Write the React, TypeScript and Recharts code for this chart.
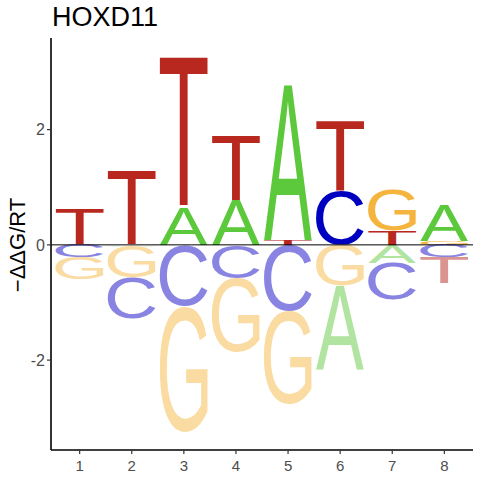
import { BarChart, Bar, XAxis, YAxis, ReferenceLine } from "recharts";

// energy logo values per position (positive = above zero, negative = below)
const positions = [1, 2, 3, 4, 5, 6, 7, 8];
const A = [0, -0.03, 0.65, 0.77, 2.68, -1.45, -0.31, 0.62];
const C = [-0.22, -0.71, -1.06, -0.58, -1.14, 0.94, -0.63, -0.22];
const G = [-0.38, -0.54, -2.18, -1.28, -1.63, -0.7, 0.71, 0.07];
const T = [0.61, 1.29, 2.6, 1.13, 0.08, 1.22, 0.24, -0.45];
const xTicks = [1, 2, 3, 4, 5, 6, 7, 8];
const yTicks = [-2, 0, 2];
const title = "HOXD11";
const yLabel = "−ΔΔG/RT";

const FONT = "'Liberation Sans', Arial, Helvetica, sans-serif";
const FULL: Record<string, string> = { A: "#5BC93B", C: "#0000C0", G: "#F5B43D", T: "#B8281E" };
const FADED: Record<string, string> = { A: "#B1E4A0", C: "#8984E2", G: "#FADBA1", T: "#DC9490" };

type Ink = { left: number; right: number; asc: number; desc: number };
// rough Arial ink boxes at 100px, used if canvas measuring fails
const FALLBACK: Record<string, Ink> = {
  A: { left: 0.15, right: 66.8, asc: 71.6, desc: 0 },
  C: { left: -4.9, right: 67.6, asc: 72.8, desc: 1.2 },
  G: { left: -5.3, right: 71.7, asc: 72.8, desc: 1.2 },
  T: { left: -2.4, right: 58.6, asc: 71.6, desc: 0 },
};

function measureInk(): Record<string, Ink> {
  const out: Record<string, Ink> = { ...FALLBACK };
  try {
    const ctx = document.createElement("canvas").getContext("2d");
    if (!ctx) return out;
    ctx.font = `100px ${FONT}`;
    for (const l of ["A", "C", "G", "T"]) {
      const m = ctx.measureText(l);
      const ink = {
        left: m.actualBoundingBoxLeft,
        right: m.actualBoundingBoxRight,
        asc: m.actualBoundingBoxAscent,
        desc: m.actualBoundingBoxDescent,
      };
      if (ink.left + ink.right > 10 && ink.asc + ink.desc > 10) out[l] = ink;
    }
  } catch {
    // keep fallback
  }
  return out;
}
const INK = measureInk();

const letterNames = ["A", "C", "G", "T"];
const letterValues = [A, C, G, T];

// each position gets its letters sorted so the smallest sits next to zero
const rows = positions.map((p, i) => {
  const vals = letterNames.map((l, k) => ({ l, v: letterValues[k][i] }));
  const up = vals.filter((d) => d.v > 0).sort((a, b) => a.v - b.v);
  const down = vals.filter((d) => d.v < 0).sort((a, b) => b.v - a.v);
  const row: Record<string, number | string> = { pos: p };
  up.forEach((d, j) => {
    row[`p${j}`] = d.v;
    row[`p${j}L`] = d.l;
  });
  down.forEach((d, j) => {
    row[`n${j}`] = d.v;
    row[`n${j}L`] = d.l;
  });
  return row;
});

const layerKeys = ["p0", "p1", "p2", "p3", "n0", "n1", "n2", "n3"].filter((k) =>
  rows.some((r) => r[k] !== undefined)
);

function LetterShape(props: any) {
  const { x, y, width, height, payload, layer } = props;
  const letter = payload?.[`${layer}L`];
  if (!letter || !height || !width) return null;
  const top = height < 0 ? y + height : y;
  const h = Math.abs(height);
  const ink = INK[letter];
  const sx = width / (ink.left + ink.right);
  const sy = h / (ink.asc + ink.desc);
  const negative = (payload[layer] as number) < 0;
  return (
    <text
      transform={`translate(${x},${top}) scale(${sx},${sy}) translate(${ink.left},${ink.asc})`}
      fontFamily={FONT}
      fontSize={100}
      fill={negative ? FADED[letter] : FULL[letter]}
    >
      {letter}
    </text>
  );
}

function YLabel(props: any) {
  const vb = props.viewBox ?? { x: 11, y: 38, width: 40, height: 412 };
  const cx = vb.x + 14;
  const cy = vb.y + vb.height / 2 + 1;
  return (
    <text
      x={cx}
      y={cy}
      transform={`rotate(-90 ${cx} ${cy})`}
      textAnchor="middle"
      fontFamily={FONT}
      fontSize={22}
      fill="#000"
    >
      {yLabel}
    </text>
  );
}

export default function App() {
  return (
    <div style={{ position: "absolute", left: 0, top: 0, width: 480, height: 480, background: "#fff" }}>
      <div
        style={{
          position: "absolute",
          left: 52,
          top: 4,
          fontFamily: FONT,
          fontSize: 27,
          lineHeight: "27px",
          color: "#000",
        }}
      >
        {title}
      </div>
      <BarChart
        width={480}
        height={480}
        data={rows}
        stackOffset="sign"
        margin={{ top: 38, right: 7, bottom: 0, left: 11 }}
      >
        <XAxis
          type="number"
          dataKey="pos"
          domain={[0.45, 8.55]}
          ticks={xTicks}
          height={30}
          tickSize={4}
          tickMargin={6}
          tick={{ fill: "#4D4D4D", fontSize: 15, fontFamily: FONT }}
          axisLine={{ stroke: "#000", strokeWidth: 1.6 }}
          tickLine={{ stroke: "#333", strokeWidth: 1.2 }}
        />
        <YAxis
          type="number"
          domain={[-3.56, 3.59]}
          ticks={yTicks}
          width={40}
          tickSize={4}
          tickMargin={2}
          tick={{ fill: "#4D4D4D", fontSize: 16, fontFamily: FONT }}
          axisLine={{ stroke: "#000", strokeWidth: 1.6 }}
          tickLine={{ stroke: "#333", strokeWidth: 1.2 }}
          allowDataOverflow
          label={<YLabel />}
        />
        {layerKeys.map((k) => (
          <Bar
            key={k}
            dataKey={k}
            stackId="logo"
            barSize={48}
            isAnimationActive={false}
            shape={(p: any) => <LetterShape {...p} layer={k} />}
          />
        ))}
        <ReferenceLine y={0} stroke="#000" strokeWidth={1} />
      </BarChart>
    </div>
  );
}
